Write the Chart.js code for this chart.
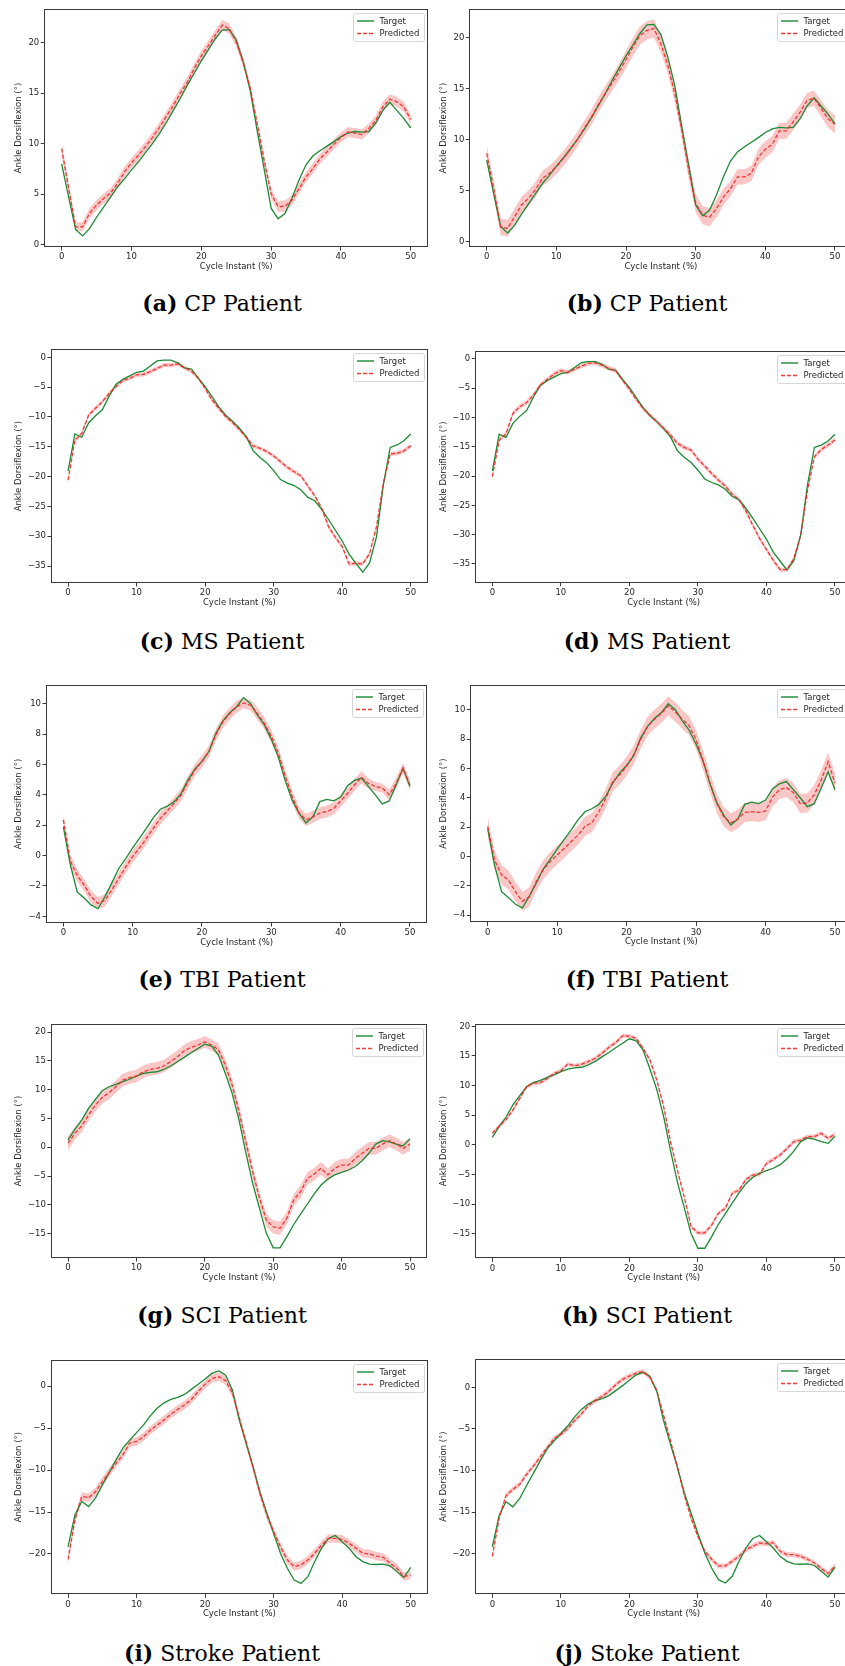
<!DOCTYPE html>
<html>
<head>
<meta charset="utf-8">
<script src="https://cdn.jsdelivr.net/npm/chart.js@4.4.1/dist/chart.umd.min.js"></script>
<style>
  html, body { margin: 0; padding: 0; background: #fff; overflow: hidden; }
  #page { position: relative; width: 845px; height: 1666px; overflow: hidden; }
  .cell { position: absolute; }
  .cap { position: absolute; width: 420px; text-align: center; font-family: "DejaVu Serif", serif;
         font-size: 22px; line-height: 26px; color: #000; }
</style>
</head>
<body>
<div id="page"></div>
<script>
// cycle instant (%) on the x axis
const cycleInstant = [0,1,2,3,4,5,6,7,8,9,10,11,12,13,14,15,16,17,18,19,20,21,22,23,24,25,
  26,27,28,29,30,31,32,33,34,35,36,37,38,39,40,41,42,43,44,45,46,47,48,49,50];
const xTicks = [0, 10, 20, 30, 40, 50];

// ---- CP patient ----
const targetCP = [8.0,4.7,1.5,0.85,1.6,2.7,3.7,4.7,5.7,6.5,
  7.4,8.2,9.1,10.0,11.0,12.1,13.3,14.5,15.8,17.0,
  18.2,19.3,20.4,21.25,21.3,20.3,18.1,15.3,11.3,7.5,
  3.6,2.55,3.1,4.6,6.4,7.9,8.8,9.3,9.75,10.2,
  10.7,11.05,11.2,11.15,11.2,12.05,13.3,14.1,13.3,12.5,11.55];
const predA = [9.5,5.6,1.75,1.75,3.1,3.9,4.55,5.1,6.05,7.2,
  8.1,8.85,9.7,10.6,11.6,12.7,13.8,15.0,16.1,17.45,
  18.7,19.7,20.75,21.75,21.4,20.1,18.1,15.5,12.0,8.35,
  5.05,3.75,3.8,4.4,5.55,6.7,7.55,8.5,9.2,9.95,
  10.6,11.15,11.05,10.9,11.5,12.3,13.65,14.4,14.15,13.65,12.4];
const bandA = [0.65,0.55,0.45,0.45,0.5,0.5,0.5,0.5,0.5,0.5,
  0.5,0.5,0.5,0.5,0.5,0.5,0.5,0.5,0.5,0.5,
  0.5,0.5,0.5,0.5,0.5,0.5,0.5,0.5,0.5,0.5,
  0.5,0.55,0.55,0.5,0.5,0.5,0.5,0.5,0.5,0.5,
  0.5,0.5,0.5,0.5,0.5,0.5,0.5,0.5,0.5,0.5,0.5];
const predB = [8.65,5.2,1.45,1.3,2.45,3.6,4.25,5.1,6.2,6.7,
  7.35,8.15,9.05,10.0,11.1,12.15,13.4,14.5,15.55,16.65,
  17.85,19.1,20.2,20.7,20.9,19.4,17.3,14.5,10.95,7.0,
  3.75,2.6,2.4,3.25,4.4,5.2,6.35,6.35,6.7,8.3,
  9.05,9.55,10.85,10.85,11.75,12.7,13.85,14.05,13.05,12.05,11.5];
const bandB = [0.8,0.8,0.85,0.8,0.8,0.8,0.8,0.75,0.75,0.75,
  0.75,0.75,0.75,0.75,0.75,0.75,0.75,0.75,0.75,0.8,
  0.85,0.9,0.9,0.9,0.9,0.85,0.8,0.8,0.8,0.85,
  0.9,0.9,0.9,0.85,0.8,0.75,0.75,0.75,0.75,0.8,
  0.8,0.8,0.8,0.8,0.8,0.75,0.75,0.75,0.8,0.85,0.9];

// ---- MS patient ----
const targetMS = [-19.1,-12.85,-13.4,-11.0,-9.8,-8.8,-6.5,-4.5,-3.7,-3.1,
  -2.5,-2.3,-1.45,-0.6,-0.45,-0.45,-0.9,-1.75,-1.95,-3.5,
  -4.9,-6.6,-8.3,-9.7,-10.7,-11.9,-13.3,-15.65,-16.8,-17.7,
  -19.0,-20.5,-21.1,-21.5,-22.25,-23.5,-24.05,-25.5,-27.2,-29.0,
  -30.8,-33.0,-34.55,-36.05,-34.45,-30.1,-21.4,-15.1,-14.7,-14.0,-12.85];
const predC = [-20.6,-13.9,-12.75,-9.7,-8.55,-7.45,-6.05,-4.9,-3.9,-3.5,
  -2.95,-2.85,-2.4,-1.85,-1.3,-1.3,-1.1,-1.75,-2.3,-3.5,
  -5.2,-7.15,-8.55,-9.95,-10.95,-12.1,-13.4,-14.85,-15.25,-15.8,
  -16.55,-17.5,-18.45,-19.2,-19.9,-21.6,-23.25,-25.3,-28.4,-30.2,
  -31.75,-34.65,-34.55,-34.65,-32.9,-28.4,-21.15,-16.2,-16.1,-15.7,-14.85];
const bandC = [0.35,0.35,0.35,0.35,0.35,0.35,0.35,0.35,0.35,0.35,
  0.35,0.35,0.35,0.35,0.35,0.35,0.35,0.35,0.35,0.35,
  0.35,0.35,0.35,0.35,0.35,0.35,0.35,0.35,0.35,0.35,
  0.35,0.35,0.35,0.35,0.35,0.35,0.35,0.35,0.35,0.35,
  0.35,0.35,0.35,0.35,0.35,0.35,0.35,0.35,0.35,0.35,0.35];
const predD = [-20.1,-13.85,-12.8,-9.3,-8.15,-7.45,-6.15,-4.45,-3.5,-2.55,
  -2.0,-2.3,-1.75,-1.2,-0.75,-0.65,-1.05,-1.6,-2.0,-3.6,
  -5.15,-6.9,-8.45,-9.6,-10.7,-11.85,-13.0,-14.4,-15.1,-15.55,
  -17.1,-18.3,-19.55,-20.7,-21.7,-23.1,-24.0,-25.95,-28.4,-30.65,
  -32.55,-34.4,-36.0,-36.0,-34.1,-30.1,-22.4,-16.7,-15.45,-14.7,-13.85];
const bandD = [0.4,0.4,0.4,0.4,0.4,0.4,0.4,0.4,0.4,0.4,
  0.4,0.4,0.4,0.4,0.4,0.4,0.4,0.4,0.4,0.4,
  0.4,0.4,0.4,0.4,0.4,0.4,0.4,0.4,0.4,0.4,
  0.4,0.4,0.4,0.4,0.4,0.4,0.4,0.4,0.4,0.4,
  0.4,0.4,0.4,0.4,0.4,0.4,0.4,0.4,0.4,0.4,0.4];

// ---- TBI patient ----
const targetTBI = [1.9,-0.6,-2.4,-2.8,-3.25,-3.5,-2.7,-1.8,-0.85,-0.2,
  0.5,1.15,1.8,2.5,3.05,3.25,3.55,4.1,5.0,5.7,
  6.2,6.85,8.05,8.85,9.4,9.8,10.4,10.0,9.25,8.6,
  7.65,6.5,4.95,3.65,2.8,2.15,2.55,3.55,3.7,3.6,
  3.85,4.6,4.95,5.1,4.55,4.0,3.4,3.6,4.65,5.75,4.55];
const predE = [2.35,-0.35,-1.3,-1.95,-2.7,-3.15,-2.95,-2.25,-1.5,-0.75,
  -0.05,0.5,1.15,1.8,2.45,2.95,3.45,4.0,4.85,5.65,
  6.2,6.85,7.95,8.8,9.35,9.8,10.05,9.9,9.35,8.7,
  7.85,6.75,5.25,3.9,2.8,2.35,2.55,2.8,2.9,3.1,
  3.6,4.1,4.65,5.15,4.75,4.55,4.45,4.0,4.75,5.75,4.65];
const bandE = [0.45,0.45,0.4,0.4,0.4,0.4,0.4,0.4,0.4,0.4,
  0.4,0.4,0.4,0.4,0.4,0.4,0.4,0.4,0.4,0.4,
  0.4,0.4,0.4,0.4,0.4,0.4,0.35,0.35,0.4,0.4,
  0.4,0.4,0.4,0.4,0.4,0.4,0.4,0.4,0.4,0.4,
  0.4,0.4,0.4,0.4,0.35,0.3,0.3,0.35,0.35,0.35,0.35];
const predF = [2.05,-0.25,-1.25,-1.6,-2.4,-3.05,-2.75,-1.7,-0.9,-0.35,
  0.1,0.55,1.0,1.45,2.05,2.3,3.05,3.95,5.1,5.55,
  6.15,6.9,7.95,8.85,9.35,9.75,10.25,9.85,9.35,8.9,
  7.95,6.55,5.0,3.6,2.7,2.3,2.55,3.0,3.05,3.0,
  3.1,4.05,4.55,4.7,4.35,3.6,3.65,4.2,5.2,6.45,5.0];
const bandF = [0.65,0.65,0.65,0.65,0.65,0.65,0.65,0.65,0.65,0.65,
  0.65,0.65,0.65,0.65,0.65,0.65,0.65,0.65,0.65,0.65,
  0.65,0.65,0.65,0.65,0.65,0.65,0.65,0.65,0.65,0.65,
  0.65,0.65,0.65,0.65,0.65,0.65,0.65,0.65,0.65,0.65,
  0.65,0.65,0.65,0.65,0.65,0.65,0.65,0.65,0.65,0.65,0.65];

// ---- SCI patient ----
const targetSCI = [1.25,3.1,4.7,6.75,8.3,9.8,10.5,10.9,11.4,11.8,
  12.35,12.8,13.0,13.1,13.5,14.1,14.85,15.6,16.4,17.15,
  17.9,17.55,16.0,12.8,9.35,4.75,-0.95,-6.25,-10.6,-14.95,
  -17.45,-17.45,-15.5,-13.4,-11.6,-9.85,-8.1,-6.55,-5.5,-4.8,
  -4.35,-3.95,-3.35,-2.35,-1.05,0.55,1.15,0.95,0.55,0.25,1.45];
const predG = [0.7,2.4,3.7,5.6,7.3,8.65,9.45,10.5,11.65,12.1,
  12.35,13.1,13.5,13.7,14.1,14.85,15.7,16.75,17.35,17.75,
  18.3,17.75,16.9,14.25,10.8,6.2,0.95,-4.25,-8.85,-12.65,
  -13.8,-14.05,-12.3,-9.15,-7.7,-5.4,-4.65,-3.65,-4.8,-3.65,
  -3.1,-3.1,-1.95,-1.05,-0.2,-0.2,0.55,1.15,0.55,-0.2,0.55];
const bandG = [1.2,1.1,1.1,1.1,1.1,1.1,1.1,1.1,1.1,1.1,
  1.1,1.1,1.1,1.1,1.1,1.1,1.1,1.1,1.1,1.05,
  1.0,1.0,1.05,1.1,1.1,1.1,1.1,1.1,1.1,1.1,
  1.15,1.15,1.1,1.1,1.1,1.1,1.1,1.1,1.1,1.1,
  1.1,1.1,1.1,1.1,1.1,1.1,1.1,1.1,1.1,1.1,1.1];
const predH = [1.95,3.15,4.3,5.85,7.85,9.8,10.4,10.5,11.2,12.05,
  12.5,13.65,13.35,13.6,14.05,14.6,15.45,16.45,17.25,18.4,
  18.35,17.95,16.3,14.3,10.95,6.45,0.55,-4.25,-8.75,-13.8,
  -14.85,-14.85,-13.55,-11.55,-10.7,-8.2,-7.65,-5.85,-5.1,-4.95,
  -3.15,-2.45,-1.7,-0.6,0.55,0.8,1.4,1.4,1.95,1.1,1.8];
const bandH = [0.35,0.35,0.35,0.35,0.35,0.35,0.35,0.35,0.35,0.35,
  0.35,0.35,0.35,0.35,0.35,0.35,0.35,0.35,0.35,0.35,
  0.35,0.35,0.35,0.35,0.35,0.35,0.35,0.35,0.35,0.35,
  0.35,0.35,0.35,0.35,0.35,0.35,0.35,0.35,0.35,0.35,
  0.35,0.35,0.35,0.35,0.35,0.35,0.35,0.35,0.35,0.35,0.35];

// ---- Stroke patient ----
const targetStroke = [-19.15,-15.35,-13.75,-14.35,-13.35,-11.8,-10.3,-8.8,-7.4,-6.45,
  -5.55,-4.65,-3.55,-2.65,-2.0,-1.6,-1.35,-1.0,-0.4,0.2,
  0.85,1.5,1.8,1.3,-0.5,-4.05,-6.85,-9.6,-12.6,-15.1,
  -17.55,-19.9,-21.7,-23.1,-23.5,-22.7,-20.9,-19.3,-18.15,-17.8,
  -18.55,-19.3,-20.3,-20.9,-21.2,-21.25,-21.2,-21.4,-22.1,-22.8,-21.6];
const predI = [-20.65,-15.95,-13.15,-13.3,-12.6,-11.4,-10.3,-9.2,-8.2,-6.8,
  -6.6,-6.05,-5.25,-4.65,-4.05,-3.35,-2.8,-2.25,-1.6,-0.65,
  0.2,0.9,1.1,0.65,-0.85,-3.85,-6.75,-9.7,-12.8,-15.35,
  -17.35,-19.15,-20.7,-21.5,-21.3,-20.7,-19.9,-18.95,-18.15,-18.15,
  -18.25,-18.75,-19.3,-19.9,-20.0,-20.25,-20.4,-21.1,-21.7,-22.7,-22.5];
const bandI = [0.5,0.5,0.5,0.5,0.5,0.5,0.5,0.5,0.5,0.5,
  0.5,0.5,0.5,0.5,0.5,0.5,0.5,0.5,0.5,0.5,
  0.5,0.5,0.5,0.5,0.5,0.5,0.5,0.5,0.5,0.5,
  0.5,0.5,0.5,0.5,0.5,0.5,0.5,0.5,0.5,0.5,
  0.5,0.5,0.5,0.5,0.5,0.5,0.5,0.5,0.5,0.5,0.5];
const predJ = [-20.3,-15.7,-13.0,-12.25,-11.65,-10.45,-9.45,-8.35,-7.25,-6.15,
  -5.65,-4.95,-4.0,-3.2,-2.2,-1.6,-1.1,-0.5,0.3,0.95,
  1.35,1.7,1.9,1.2,-0.4,-3.4,-6.45,-9.55,-12.9,-15.7,
  -17.9,-19.7,-20.65,-21.45,-21.45,-20.9,-20.3,-19.5,-19.1,-18.7,
  -18.8,-18.65,-19.7,-20.1,-20.1,-20.3,-20.65,-21.1,-21.75,-22.35,-21.45];
const bandJ = [0.3,0.3,0.3,0.3,0.3,0.3,0.3,0.3,0.3,0.3,
  0.3,0.3,0.3,0.3,0.3,0.3,0.3,0.3,0.3,0.3,
  0.3,0.3,0.3,0.3,0.3,0.3,0.3,0.3,0.3,0.3,
  0.3,0.3,0.3,0.3,0.3,0.3,0.3,0.3,0.3,0.3,
  0.3,0.3,0.3,0.3,0.3,0.3,0.3,0.3,0.3,0.3,0.3];

const yTicksCP = [0, 5, 10, 15, 20];
const yTicksMS = [-35, -30, -25, -20, -15, -10, -5, 0];
const yTicksTBI = [-4, -2, 0, 2, 4, 6, 8, 10];
const yTicksSCI = [-15, -10, -5, 0, 5, 10, 15, 20];
const yTicksStroke = [-20, -15, -10, -5, 0];

// panel layout: box = [left, top, right, bottom] of the axes frame on the page
const panels = [
  { tag: '(a)', cap: 'CP Patient', target: targetCP, pred: predA, band: bandA, yTicks: yTicksCP, yMin: -0.25, yMax: 23.35, col: 0, row: 0, box: [44.2, 9, 428.2, 247] },
  { tag: '(b)', cap: 'CP Patient', target: targetCP, pred: predB, band: bandB, yTicks: yTicksCP, yMin: -0.52, yMax: 22.8, col: 1, row: 0, box: [469.3, 9, 852.4, 247] },
  { tag: '(c)', cap: 'MS Patient', target: targetMS, pred: predC, band: bandC, yTicks: yTicksMS, yMin: -37.85, yMax: 1.35, col: 0, row: 1, box: [50.9, 349.3, 427.9, 583] },
  { tag: '(d)', cap: 'MS Patient', target: targetMS, pred: predD, band: bandD, yTicks: yTicksMS, yMin: -38.2, yMax: 1.4, col: 1, row: 1, box: [475.2, 350.8, 852.1, 582.6] },
  { tag: '(e)', cap: 'TBI Patient', target: targetTBI, pred: predE, band: bandE, yTicks: yTicksTBI, yMin: -4.44, yMax: 11.23, col: 0, row: 2, box: [46, 685, 427.3, 923] },
  { tag: '(f)', cap: 'TBI Patient', target: targetTBI, pred: predF, band: bandF, yTicks: yTicksTBI, yMin: -4.48, yMax: 11.68, col: 1, row: 2, box: [470.3, 685, 852.4, 922.3] },
  { tag: '(g)', cap: 'SCI Patient', target: targetSCI, pred: predG, band: bandG, yTicks: yTicksSCI, yMin: -19.22, yMax: 21.39, col: 0, row: 3, box: [50.9, 1024, 427.1, 1258] },
  { tag: '(h)', cap: 'SCI Patient', target: targetSCI, pred: predH, band: bandH, yTicks: yTicksSCI, yMin: -19.15, yMax: 20.4, col: 1, row: 3, box: [475.2, 1024, 852.1, 1258.3] },
  { tag: '(i)', cap: 'Stroke Patient', target: targetStroke, pred: predI, band: bandI, yTicks: yTicksStroke, yMin: -24.8, yMax: 3.1, col: 0, row: 4, box: [50.9, 1360, 427.8, 1594.3] },
  { tag: '(j)', cap: 'Stoke Patient', target: targetStroke, pred: predJ, band: bandJ, yTicks: yTicksStroke, yMin: -24.86, yMax: 3.4, col: 1, row: 4, box: [475.2, 1359, 852.1, 1594.3] }
];

const rowTops = [0, 335, 670, 1010, 1345];
const capY = [303, 641, 979, 1315, 1653];
const capX = [222, 647];

const GREEN = '#1b8a34';
const RED = 'rgba(238,40,40,0.9)';
const BAND = 'rgba(240,70,70,0.3)';
const INK = '#262626';
const FS = 8.5;

Chart.defaults.font.family = '"DejaVu Sans", sans-serif';
Chart.defaults.font.size = FS;

const frame = {
  id: 'frame',
  afterDraw(chart) {
    const { ctx, chartArea: a } = chart;
    ctx.save();
    ctx.strokeStyle = '#3a3a3a';
    ctx.lineWidth = 1;
    const x0 = Math.round(a.left) + 0.5, y0 = Math.round(a.top) + 0.5;
    const x1 = Math.round(a.right) - 0.5, y1 = Math.round(a.bottom) - 0.5;
    ctx.strokeRect(x0, y0, x1 - x0, y1 - y0);
    ctx.restore();
  }
};

const legendBox = {
  id: 'legendBox',
  afterDraw(chart) {
    const { ctx, chartArea: a } = chart;
    const w = 71, h = 28;
    const x = Math.round(a.right - 4 - w) + 0.5, y = Math.round(a.top + 4) + 0.5;
    ctx.save();
    ctx.beginPath();
    ctx.roundRect(x, y, w, h, 2);
    ctx.fillStyle = 'rgba(255,255,255,0.8)';
    ctx.fill();
    ctx.strokeStyle = '#d6d6d6';
    ctx.lineWidth = 1;
    ctx.stroke();
    const items = [
      { text: 'Target', color: GREEN, dash: [] },
      { text: 'Predicted', color: RED, dash: [4, 2] }
    ];
    items.forEach((it, k) => {
      const yy = y + 7.5 + k * 12.5;
      ctx.beginPath();
      ctx.setLineDash(it.dash);
      ctx.strokeStyle = it.color;
      ctx.lineWidth = 1.4;
      ctx.moveTo(x + 3.5, yy);
      ctx.lineTo(x + 20.5, yy);
      ctx.stroke();
      ctx.setLineDash([]);
      ctx.fillStyle = INK;
      ctx.font = FS + 'px "DejaVu Sans", sans-serif';
      ctx.textBaseline = 'middle';
      ctx.fillText(it.text, x + 26, yy + 0.5);
    });
    ctx.restore();
  }
};

const minus = v => (v < 0 ? '\u2212' + Math.abs(v) : String(v));
const page = document.getElementById('page');

panels.forEach(p => {
  const cellL = p.col === 0 ? 0 : 432;
  const cellW = p.col === 0 ? 432 : 440;
  const cellT = rowTops[p.row];
  const [l, t, r, b] = p.box;
  const xH = 25;
  const padL = p.col === 0 ? 14 : 7;
  const h = Math.ceil(b - cellT + xH);

  const div = document.createElement('div');
  div.className = 'cell';
  div.style.left = cellL + 'px';
  div.style.top = cellT + 'px';
  const cv = document.createElement('canvas');
  cv.width = cellW; cv.height = h;
  cv.style.width = cellW + 'px'; cv.style.height = h + 'px';
  div.appendChild(cv);
  page.appendChild(div);

  const pts = arr => cycleInstant.map((x, i) => ({ x: x, y: arr[i] }));
  const upper = p.pred.map((v, i) => v + p.band[i]);
  const lower = p.pred.map((v, i) => v - p.band[i]);

  new Chart(cv, {
    type: 'line',
    data: {
      datasets: [
        { label: 'Predicted', data: pts(p.pred), borderColor: RED, borderWidth: 1.3, borderDash: [4, 2],
          pointRadius: 0, tension: 0, fill: false },
        { label: 'Target', data: pts(p.target), borderColor: GREEN, borderWidth: 1.3,
          pointRadius: 0, tension: 0, fill: false },
        { label: 'upper', data: pts(upper), borderWidth: 0, borderColor: 'rgba(0,0,0,0)',
          backgroundColor: BAND, pointRadius: 0, tension: 0, fill: '+1' },
        { label: 'lower', data: pts(lower), borderWidth: 0, borderColor: 'rgba(0,0,0,0)',
          pointRadius: 0, tension: 0, fill: false }
      ]
    },
    options: {
      responsive: false,
      animation: false,
      devicePixelRatio: 1,
      layout: { padding: { top: t - cellT, right: cellL + cellW - r, left: padL, bottom: h - (b - cellT) - xH } },
      plugins: { legend: { display: false }, tooltip: { enabled: false } },
      scales: {
        x: {
          type: 'linear', min: -2.5, max: 52.5,
          afterBuildTicks: s => { s.ticks = xTicks.map(v => ({ value: v })); },
          afterFit: s => { s.height = xH; },
          grid: { drawOnChartArea: false, tickLength: 3.5, color: '#3a3a3a' },
          border: { display: false },
          ticks: { padding: 1.5, color: INK, maxRotation: 0, autoSkip: false, font: { size: FS } },
          title: { display: true, text: 'Cycle Instant (%)', color: INK, font: { size: FS }, padding: 0 }
        },
        y: {
          type: 'linear', min: p.yMin, max: p.yMax,
          afterBuildTicks: s => { s.ticks = p.yTicks.map(v => ({ value: v })); },
          afterFit: s => { s.width = l - cellL - padL; },
          grid: { drawOnChartArea: false, tickLength: 3.5, color: '#3a3a3a' },
          border: { display: false },
          ticks: { padding: 1.5, color: INK, autoSkip: false, font: { size: FS }, callback: v => minus(v) },
          title: { display: true, text: 'Ankle Dorsiflexion (°)', color: INK, font: { size: FS }, padding: 0 }
        }
      }
    },
    plugins: [frame, legendBox]
  });

  const cap = document.createElement('div');
  cap.className = 'cap';
  cap.style.left = (capX[p.col] - 210) + 'px';
  cap.style.top = (capY[p.row] - 13) + 'px';
  cap.innerHTML = '<b>' + p.tag + '</b> ' + p.cap;
  page.appendChild(cap);
});
</script>
</body>
</html>
